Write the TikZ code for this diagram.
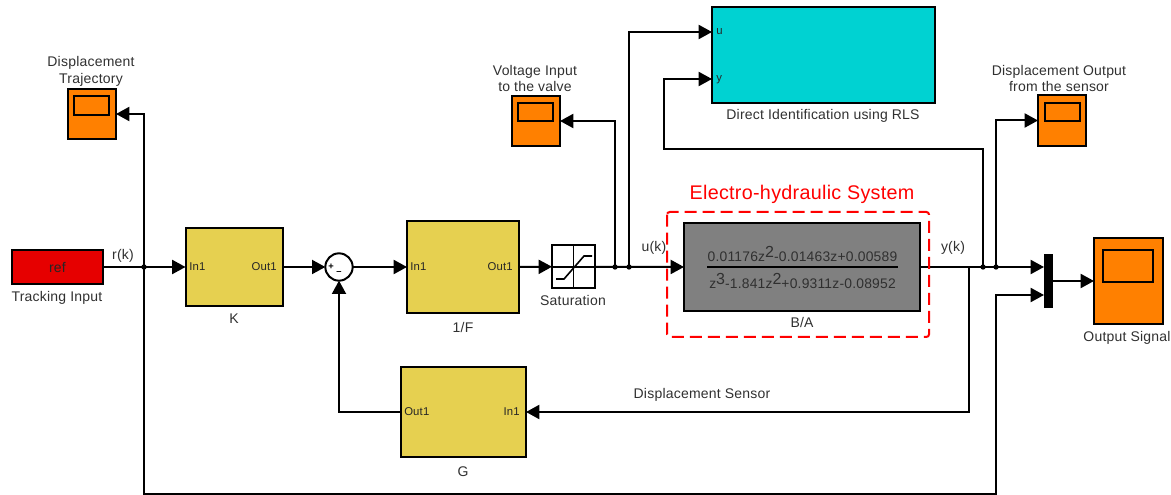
\documentclass[tikz,border=0pt]{standalone}
\usepackage{fontspec}
\setmainfont[LetterSpace=1.5]{Liberation Sans}
\usetikzlibrary{arrows.meta}
\definecolor{scopec}{HTML}{FF8000}
\definecolor{goldc}{HTML}{E6D050}
\definecolor{refc}{HTML}{E60000}
\definecolor{cyanc}{HTML}{00D2D2}
\definecolor{grayc}{HTML}{808080}
\definecolor{txt}{HTML}{303030}
\tikzset{
  blockbox/.style={draw=black,line width=1.5pt,inner sep=0pt,outer sep=0pt},
  wire/.style={draw=black,line width=1.5pt},
  sig/.style={wire,-{Triangle[length=10pt,width=10.5pt]},shorten >=0pt},
  lab/.style={font=\fontsize{10.5}{12.2}\selectfont,text=txt,inner sep=0pt,align=center},
  port/.style={font=\fontsize{8.5}{10}\selectfont,text=black!85,inner sep=0pt},
  dot/.style={circle,fill=black,inner sep=0pt,minimum size=4pt}
}
\newcommand{\blk}[6]{% name, style, x1, y1, x2, y2
  \pgfmathsetmacro{\bw}{(#5-#3)*0.75}\pgfmathsetmacro{\bh}{(#6-#4)*0.75}
  \pgfmathsetmacro{\bx}{(#3+#5)/2}\pgfmathsetmacro{\by}{(#4+#6)/2}
  \node[blockbox,#2,minimum width=\bw pt,minimum height=\bh pt] (#1) at (\bx,\by) {};}
\begin{document}
\begin{tikzpicture}[x=0.75pt,y=-0.75pt]
\useasboundingbox (0,0) rectangle (1171,495);
% blocks
\blk{ref}{fill=refc}{12}{250}{103}{284}
\blk{K}{fill=goldc}{185.5}{228}{283}{306}
\blk{F}{fill=goldc}{407}{221}{519}{313}
\blk{G}{fill=goldc}{401}{367}{526}{457}
\blk{sat}{fill=white}{552}{245}{595}{288.5}
\blk{BA}{fill=grayc}{684}{223}{920}{311}
\blk{rls}{fill=cyanc}{712}{7}{935}{103}
\blk{traj}{fill=scopec}{68}{89}{116}{139}
\blk{trajw}{fill=scopec}{74}{96}{109}{115}
\blk{volt}{fill=scopec}{512}{96}{560}{146}
\blk{voltw}{fill=scopec}{518}{103}{553}{121}
\blk{disp}{fill=scopec}{1038}{95}{1086}{146}
\blk{dispw}{fill=scopec}{1045}{103}{1080}{121}
\blk{out}{fill=scopec}{1094}{238}{1163}{324}
\blk{outw}{fill=scopec}{1103}{250}{1153}{282}
\blk{mux}{fill=black,line width=0pt,draw=none}{1044}{254}{1053}{308}
\node[circle,draw=black,line width=1.5pt,fill=white,minimum size=20.5pt,inner sep=0pt,outer sep=0pt] (sum) at (339,267) {};
\node[inner sep=0pt,font=\fontsize{7}{7}\selectfont\bfseries] (plus) at (331,267) {+};
\node[inner sep=0pt,font=\fontsize{7}{7}\selectfont\bfseries] (minus) at (339,273) {–};
% coordinates
\coordinate (j1) at (144,267);
\coordinate (j2) at (615,267);
\coordinate (j3) at (629,267);
\coordinate (j4) at (969,267);
\coordinate (j5) at (983,267);
\coordinate (j6) at (996,267);
\coordinate (rlsu) at (712,32);
\coordinate (rlsy) at (712,79);
\coordinate (yc) at (664,149);
\coordinate (mux1) at (1044,267);
\coordinate (mux2) at (1044,295);
\coordinate (muxo) at (1053,281);
\coordinate (botc) at (996,494);
% wires
\draw[sig] (ref.east) -- (K.west);
\draw[sig] (j1) |- (traj.east);
\draw[sig] (K.east) -- (sum.west);
\draw[sig] (sum.east) -- (F.west);
\draw[sig] (F.east) -- (sat.west);
\draw[sig] (sat.east) -- (BA.west);
\draw[sig] (j2) |- (volt.east);
\draw[sig] (j3) |- (rlsu);
\draw[sig] (BA.east) -- (mux1);
\draw[sig] (j5) |- (yc) |- (rlsy);
\draw[sig] (j6) |- (disp.west);
\draw[sig] (j4) |- (G.east);
\draw[sig] (G.west) -| (sum.south);
\draw[sig] (muxo) -- (out.west);
\draw[sig] (j1) |- (botc) |- (mux2);
\foreach \j in {j1,j2,j3,j5,j6} \node[dot] at (\j) {};
% saturation icon
\draw[draw=black,line width=1.2pt] (sat.north) -- (sat.south);
\draw[draw=black,line width=1.2pt] (sat.west) -- (sat.east);
\draw[draw=black,line width=1.2pt] (556,279) -- (564,279) -- (584,256) -- (592,256);
% transfer function
\coordinate (barl) at (707,267);
\coordinate (barr) at (898,267);
\draw[draw=black,line width=1.2pt] (barl) -- (barr);
\newcommand{\pw}[1]{\raisebox{3.5pt}{\fontsize{12}{12}\selectfont #1}}
\node[lab,font=\fontsize{10.4}{12}\selectfont] (num) at (802.5,254) {0.01176z\pw{2}-0.01463z+0.00589};
\node[lab,font=\fontsize{10.4}{12}\selectfont] (den) at (802.5,281) {z\pw{3}-1.841z\pw{2}+0.9311z-0.08952};
% red dashed
\draw[red,line width=1.5pt,dash pattern=on 9pt off 4.5pt,rounded corners=2pt] (667,212) rectangle (929,337);
\node[lab,text=red,font=\fontsize{14.8}{16}\selectfont] (sys) at (802,194) {Electro-hydraulic System};
% labels
\node[lab] (ltraj) at (91,71.5) {Displacement\\Trajectory};
\node[lab] (lr) at (123,255.5) {r(k)};
\node[lab,text=black!85] (lref) at (57.5,268) {ref};
\node[lab] (ltrack) at (57,297.5) {Tracking Input};
\node[lab] (lK) at (234,318.5) {K};
\node[lab] (lF) at (463,327.5) {1/F};
\node[lab] (lG) at (463,471.5) {G};
\node[lab] (lsat) at (573,300) {Saturation};
\node[lab] (lu) at (654,248) {u(k)};
\node[lab] (ly) at (953,247.5) {y(k)};
\node[lab] (lBA) at (802,322.5) {B/A};
\node[lab] (lvolt) at (535,78.5) {Voltage Input\\to the valve};
\node[lab] (ldisp) at (1059,78.5) {Displacement Output\\from the sensor};
\node[lab] (lout) at (1127,337.5) {Output Signal};
\node[lab] (lrls) at (823,115.5) {Direct Identification using RLS};
\node[lab] (lsens) at (702,394.5) {Displacement Sensor};
% port labels
\node[port,anchor=west] (pk1) at (189,267) {In1};
\node[port,anchor=east] (pk2) at (277,267) {Out1};
\node[port,anchor=west] (pf1) at (410,267) {In1};
\node[port,anchor=east] (pf2) at (513,267) {Out1};
\node[port,anchor=west] (pg2) at (404,412) {Out1};
\node[port,anchor=east] (pg1) at (520,412) {In1};
\node[port,anchor=west] (pu) at (716,32) {u};
\node[port,anchor=west] (py) at (716,80) {y};
\end{tikzpicture}
\end{document}
